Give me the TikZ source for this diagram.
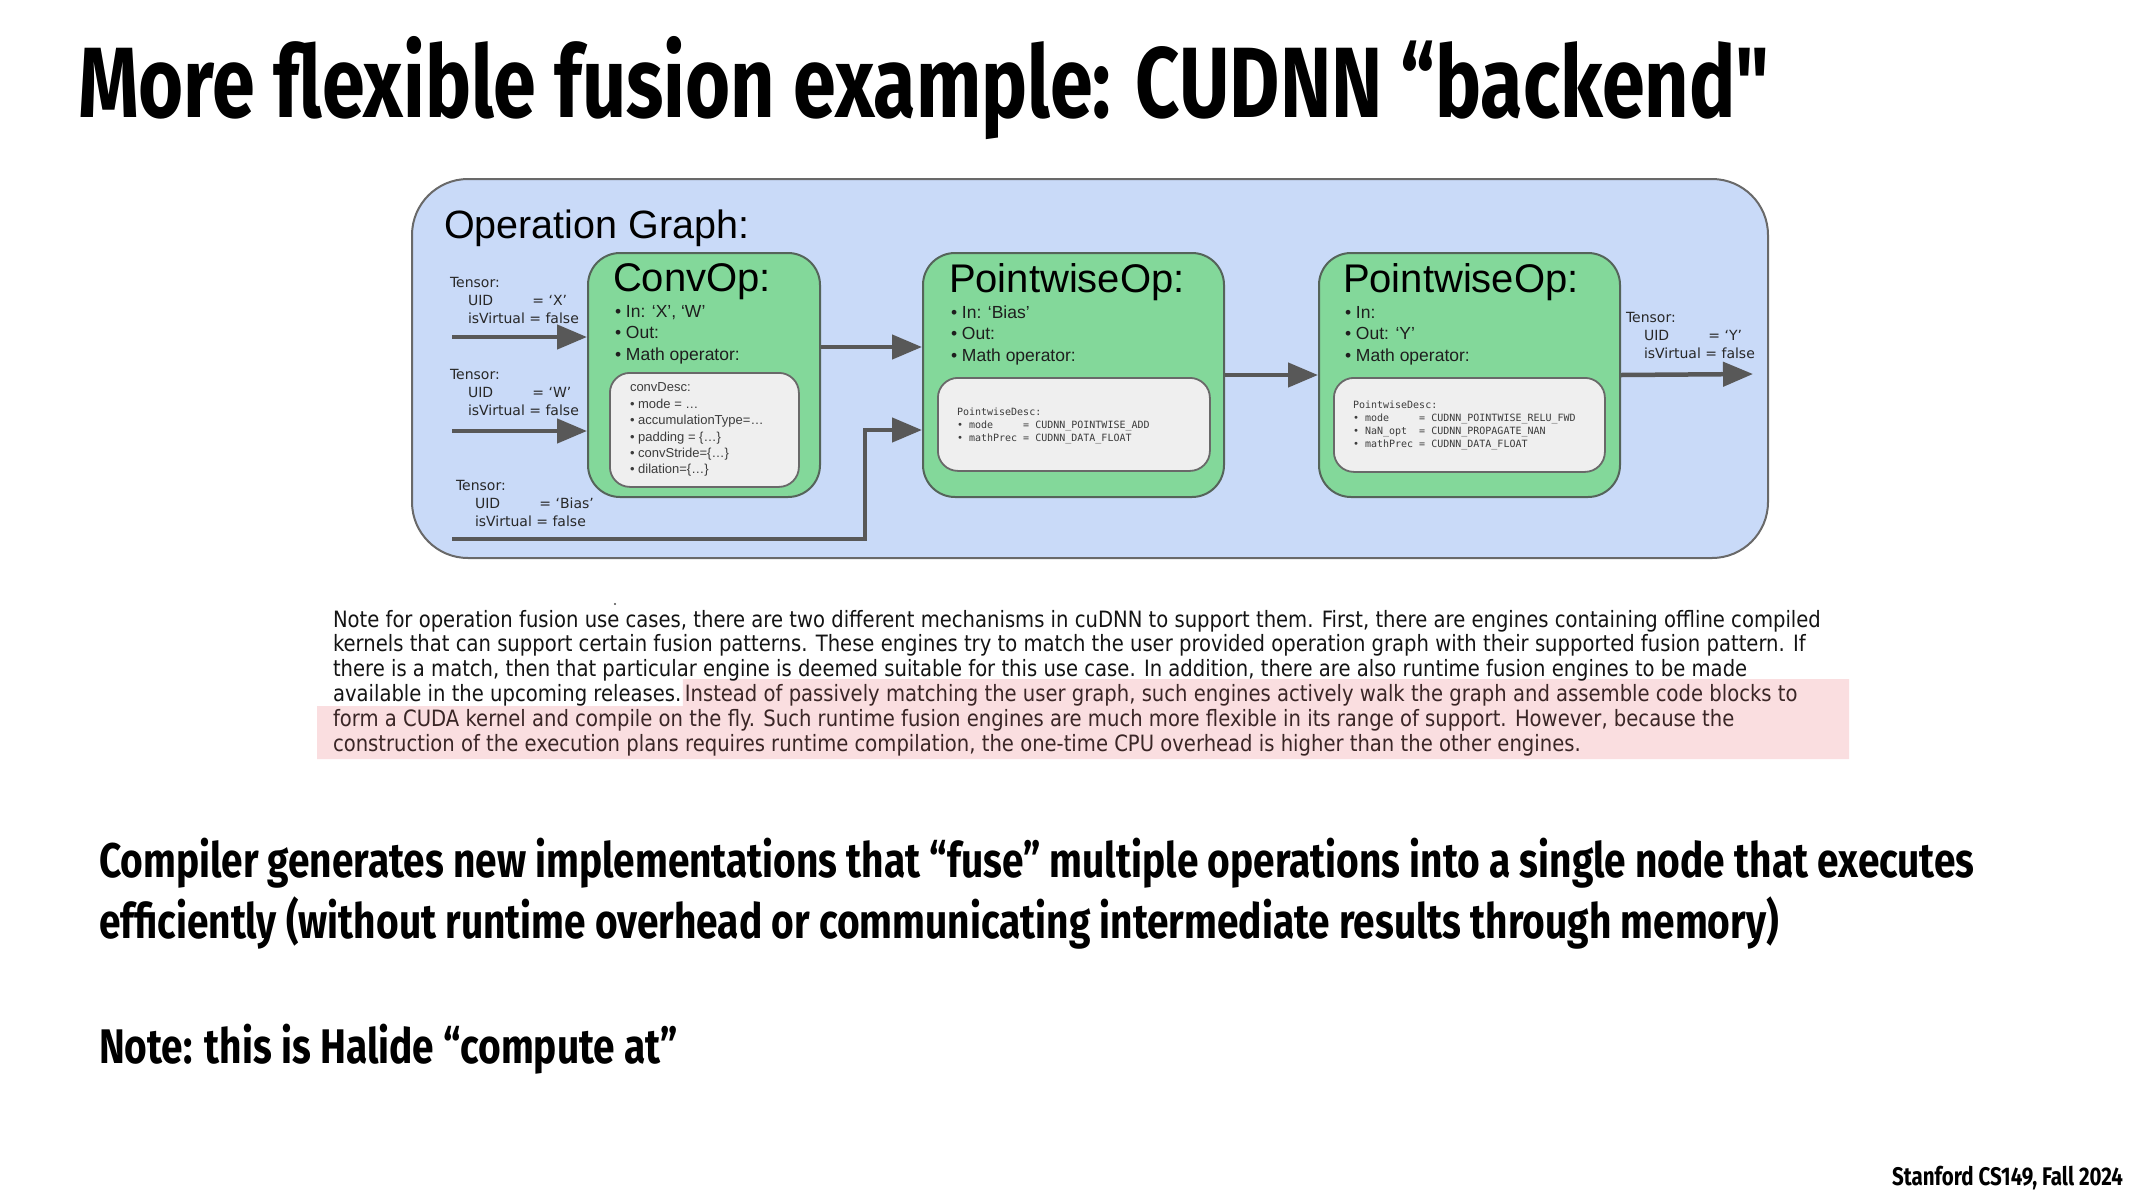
\documentclass[tikz,border=0pt]{standalone}
\usepackage{fontspec}
\setmainfont{Liberation Sans}
\newfontfamily\titlefont[FakeStretch=0.773]{Fira Sans}
\newfontfamily\slidefont[FakeStretch=0.80]{Fira Sans}
\newfontfamily\footfont[FakeStretch=0.805]{Fira Sans}
\newfontfamily\parafont[FakeStretch=0.871]{DejaVu Sans}
\newfontfamily\tensorfont{DejaVu Sans}
\newfontfamily\descmono{DejaVu Sans Mono}
\usetikzlibrary{arrows.meta}
\pgfdeclarelayer{background}
\pgfsetlayers{background,main}

\definecolor{opblue}{RGB}{201,218,248}
\definecolor{opgreen}{RGB}{131,216,154}
\definecolor{descgray}{RGB}{239,239,239}
\definecolor{edgegray}{RGB}{88,88,88}
\definecolor{bordergray}{RGB}{105,105,105}
\definecolor{greenborder}{RGB}{85,100,90}
\definecolor{hlpink}{RGB}{250,222,224}
\definecolor{hltext}{RGB}{58,38,38}
\definecolor{boxtext}{RGB}{30,30,30}
\definecolor{desctext}{RGB}{60,60,60}
\definecolor{tensortext}{RGB}{40,40,40}

\tikzset{
  graphframe/.style={draw=bordergray, line width=2pt, fill=opblue, rounded corners=56pt,
    anchor=north west, inner sep=0pt},
  opbox/.style={draw=greenborder, line width=2pt, fill=opgreen, rounded corners=32pt,
    anchor=north west, inner sep=0pt, minimum height=244pt},
  descbox/.style={draw=bordergray, line width=1.8pt, fill=descgray, rounded corners=20pt,
    anchor=north west, inner sep=0pt},
  flow/.style={draw=edgegray, line width=4.5pt,
    -{Triangle[length=30pt,width=24pt]}},
  txt/.style={anchor=base west, inner sep=0pt, outer sep=0pt},
  optitle/.style={txt, font=\fontsize{40}{46}\selectfont, text=black},
  bul/.style={txt, font=\fontsize{17.5}{21}\selectfont, text=boxtext},
  cdesc/.style={txt, font=\fontsize{13}{15}\selectfont, text=desctext},
  mdesc/.style={txt, font=\descmono\fontsize{10}{12}\selectfont, text=desctext},
  tlabel/.style={txt, font=\tensorfont\fontsize{14}{16}\selectfont, text=tensortext},
  para/.style={txt, font=\parafont\fontsize{22.5}{25}\selectfont, text=black!92},
  parahl/.style={para, text=hltext},
  slide/.style={txt, font=\slidefont\bfseries\fontsize{48.6}{56}\selectfont, text=black},
}

\begin{document}
\begin{tikzpicture}[x=1pt,y=-1pt]
\path[use as bounding box] (0,0) rectangle (2133,1200);
\begin{pgfonlayer}{background}
\fill[white] (0,0) rectangle (2133,1200);
\end{pgfonlayer}

% ---------- title ----------
\node[txt, font=\titlefont\bfseries\fontsize{100}{110}\selectfont] (title) at (78,117)
  {More flexible fusion example: CUDNN “backend"};

% ---------- operation graph ----------
\node[graphframe, minimum width=1356pt, minimum height=379pt] (frame) at (411,178) {};
\node[optitle, font=\fontsize{39.5}{46}\selectfont] (gtitle) at (444,238) {Operation Graph:};

\node[opbox, minimum width=232pt] (conv) at (587,252) {};
\node[opbox, minimum width=301pt] (pw1) at (922,252) {};
\node[opbox, minimum width=301pt] (pw2) at (1318,252) {};

\node[descbox, minimum width=189pt, minimum height=114pt] (convdesc) at (609,372) {};
\node[descbox, minimum width=272pt, minimum height=93pt] (pw1desc) at (937,377) {};
\node[descbox, minimum width=271pt, minimum height=94pt] (pw2desc) at (1333,377) {};

\node[optitle] (convtitle) at (613,291) {ConvOp:};
\node[optitle] (pw1title) at (949,292) {PointwiseOp:};
\node[optitle] (pw2title) at (1343,292) {PointwiseOp:};

\node[bul] (convin)   at (615,317)   {• In: ‘X’, ‘W’};
\node[bul] (convout)  at (615,338.5) {• Out:};
\node[bul] (convmath) at (615,360)   {• Math operator:};
\node[bul] (pw1in)    at (951,318)   {• In: ‘Bias’};
\node[bul] (pw1out)   at (951,339.5) {• Out:};
\node[bul] (pw1math)  at (951,361)   {• Math operator:};
\node[bul] (pw2in)    at (1345,318)  {• In:};
\node[bul] (pw2out)   at (1345,339.5){• Out: ‘Y’};
\node[bul] (pw2math)  at (1345,361)  {• Math operator:};

\node[cdesc] (cd0) at (630,391)   {convDesc:};
\node[cdesc] (cd1) at (630,408.5) {• mode = …};
\node[cdesc] (cd2) at (630,424.5) {• accumulationType=…};
\node[cdesc] (cd3) at (630,441)   {• padding = \{…\}};
\node[cdesc] (cd4) at (630,457)   {• convStride=\{…\}};
\node[cdesc] (cd5) at (630,473.5) {• dilation=\{…\}};

\node[mdesc] (pa0) at (957,415) {PointwiseDesc:};
\node[mdesc] (pa1) at (957,428) {• \rlap{mode}\phantom{mathPrec} = CUDNN\_POINTWISE\_ADD};
\node[mdesc] (pa2) at (957,441) {• mathPrec = CUDNN\_DATA\_FLOAT};

\node[mdesc] (pb0) at (1353,408) {PointwiseDesc:};
\node[mdesc] (pb1) at (1353,421) {• \rlap{mode}\phantom{mathPrec} = CUDNN\_POINTWISE\_RELU\_FWD};
\node[mdesc] (pb2) at (1353,434) {• \rlap{NaN\_opt}\phantom{mathPrec} = CUDNN\_PROPAGATE\_NAN};
\node[mdesc] (pb3) at (1353,447) {• mathPrec = CUDNN\_DATA\_FLOAT};

% tensor labels
\node[tlabel] (tx0) at (450,287)   {Tensor:};
\node[tlabel] (tx1) at (468,305)   {\rlap{UID}\phantom{isVirtual}\hspace{3pt} = ‘X’};
\node[tlabel] (tx2) at (468,323)   {isVirtual = false};
\node[tlabel] (tw0) at (450,379)   {Tensor:};
\node[tlabel] (tw1) at (468,397)   {\rlap{UID}\phantom{isVirtual}\hspace{3pt} = ‘W’};
\node[tlabel] (tw2) at (468,415)   {isVirtual = false};
\node[tlabel] (tb0) at (456,490)   {Tensor:};
\node[tlabel] (tb1) at (475,508)   {\rlap{UID}\phantom{isVirtual}\hspace{3pt} = ‘Bias’};
\node[tlabel] (tb2) at (475,526)   {isVirtual = false};
\node[tlabel] (ty0) at (1626,322)  {Tensor:};
\node[tlabel] (ty1) at (1644,340)  {\rlap{UID}\phantom{isVirtual}\hspace{3pt} = ‘Y’};
\node[tlabel] (ty2) at (1644,358)  {isVirtual = false};

% connectors
\coordinate (xin) at (452,337);
\coordinate (win) at (452,431);
\coordinate (bin) at (452,539);
\coordinate (bturn) at (865,430);
\coordinate (yout) at (1753,374);
\draw[flow] (xin) -- (xin -| conv.west);
\draw[flow] (win) -- (win -| conv.west);
\draw[flow] ([yshift=28pt]conv.east) -- ([yshift=28pt]conv.east -| pw1.west);
\draw[flow] (pw1.east) -- (pw2.west);
\draw[flow, line join=miter] (bin) -| (bturn) -- (bturn -| pw1.west);
\draw[flow] (pw2.east) -- (yout);

% ---------- paragraph ----------
\fill[black!70] (615,604) circle (1.2pt);
\node[para] (p1) at (333,627)   {Note for operation fusion use cases, there are two different mechanisms in cuDNN to support them. First, there are engines containing offline compiled};
\node[para] (p2) at (333,651.8) {kernels that can support certain fusion patterns. These engines try to match the user provided operation graph with their supported fusion pattern. If};
\node[para] (p3) at (333,676.6) {there is a match, then that particular engine is deemed suitable for this use case. In addition, there are also runtime fusion engines to be made};
\node[para] (p4a) at (333,701.4) {available in the upcoming releases.};
\node[parahl, anchor=base west] (p4b) at ([xshift=3.5pt]p4a.base east) {Instead of passively matching the user graph, such engines actively walk the graph and assemble code blocks to};
\node[parahl] (p5) at (333,726.2) {form a CUDA kernel and compile on the fly. Such runtime fusion engines are much more flexible in its range of support. However, because the};
\node[parahl] (p6) at (333,751)   {construction of the execution plans requires runtime compilation, the one-time CPU overhead is higher than the other engines.};
\begin{pgfonlayer}{background}
\fill[hlpink] ([xshift=1.5pt]p4a.base east |- 0,679) -- (1849,679) -- (1849,759) -- (317,759)
  -- (317,706) -- ([xshift=1.5pt]p4a.base east |- 0,706) -- cycle;
\end{pgfonlayer}

% ---------- bottom text ----------
\node[slide] (b1) at (99,877) {Compiler generates new implementations that “fuse” multiple operations into a single node that executes};
\node[slide] (b2) at (99,938.5) {efficiently (without runtime overhead or communicating intermediate results through memory)};
\node[slide] (b3) at (99,1063.5) {Note: this is Halide “compute at”};

\node[txt, anchor=base east, font=\footfont\bfseries\fontsize{25.5}{28}\selectfont] (footer) at (2123,1185)
  {Stanford CS149, Fall 2024};
\end{tikzpicture}
\end{document}
